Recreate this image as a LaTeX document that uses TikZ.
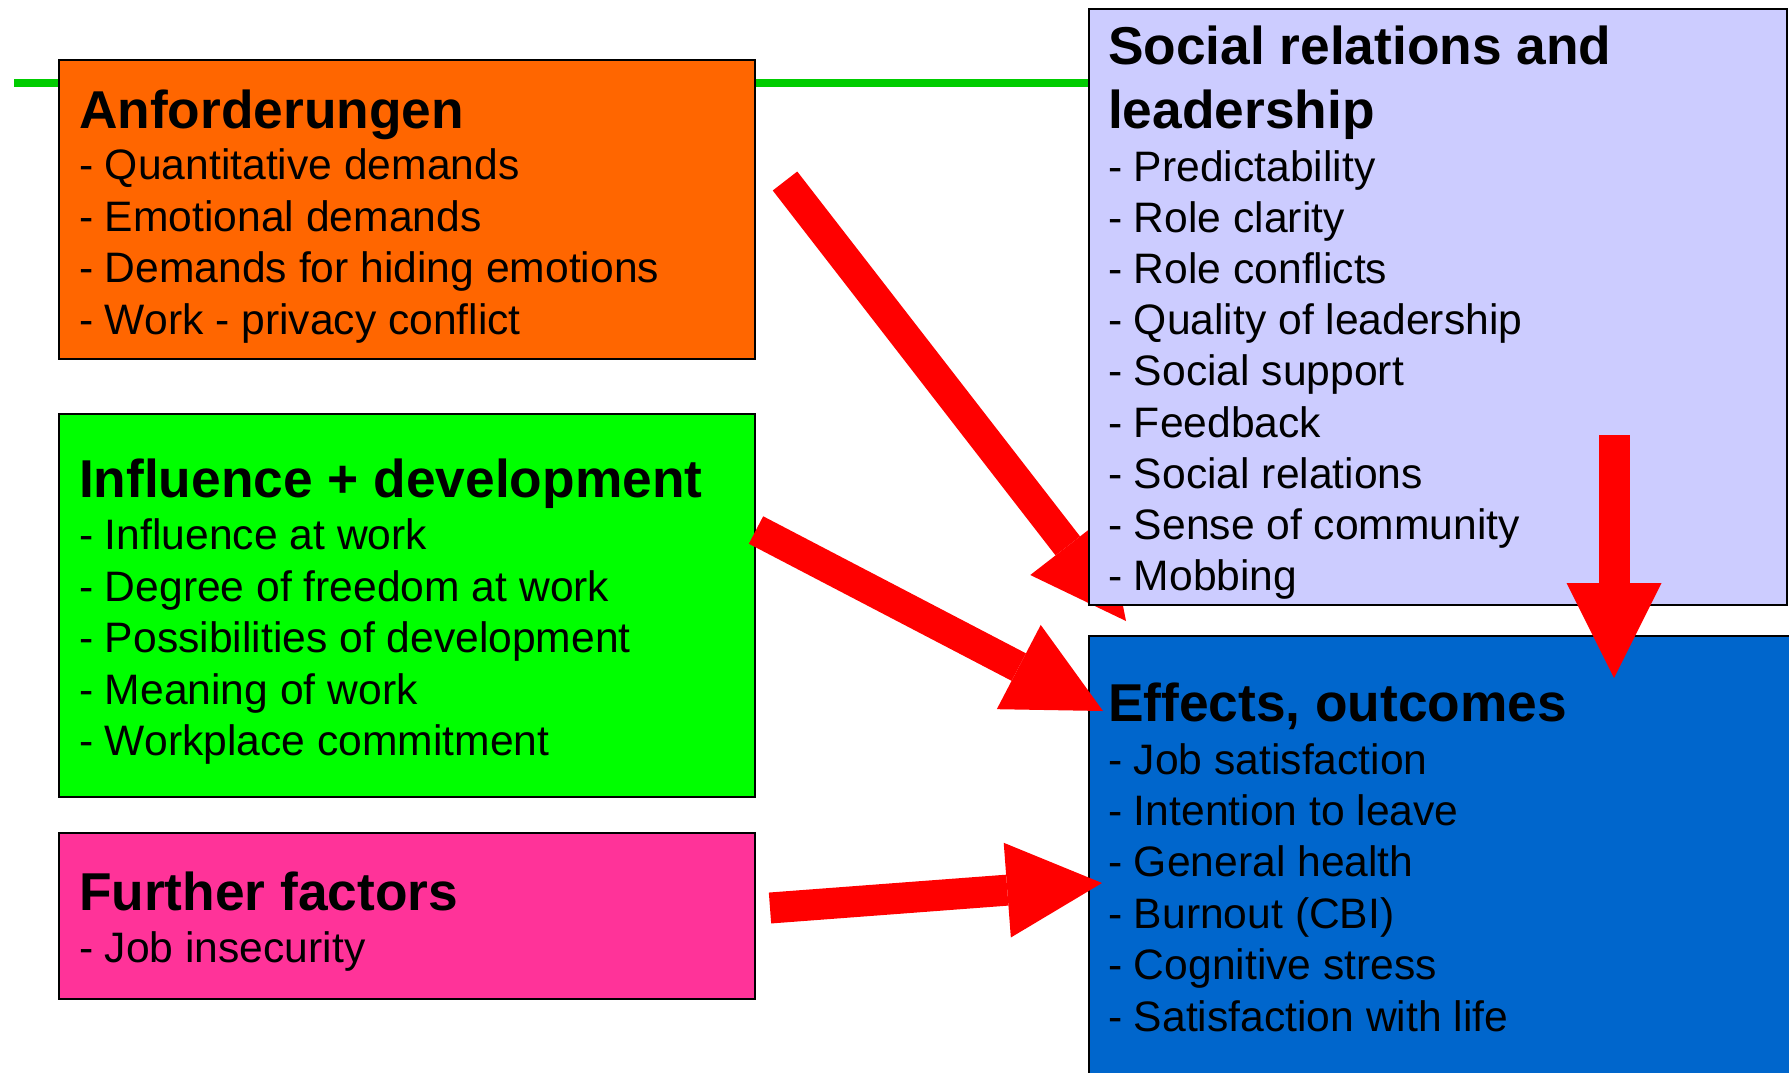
\documentclass[tikz,border=0pt]{standalone}
\usepackage{fontspec}
\setmainfont{Liberation Sans}
\usetikzlibrary{arrows.meta}
\definecolor{orangeC}{RGB}{255,102,0}
\definecolor{greenC}{RGB}{0,255,0}
\definecolor{pinkC}{RGB}{255,51,153}
\definecolor{lavC}{RGB}{204,204,255}
\definecolor{blueC}{RGB}{0,102,204}
\definecolor{lineC}{RGB}{0,204,0}
\definecolor{arrowC}{RGB}{255,0,0}
\newcommand{\ttl}[1]{\hbox{\fontsize{53.3}{64}\selectfont\bfseries #1}}
\newcommand{\itm}[1]{\hbox{\fontsize{42.6}{51}\selectfont - #1}}
\begin{document}
\begin{tikzpicture}[x=1pt,y=-1pt,
  box/.style={draw=black, line width=2pt, rectangle, anchor=north west, inner sep=0pt, outer sep=0pt},
  txt/.style={anchor=base west, inner sep=0pt, outer sep=0pt, text=black},
  bigarrow/.style={draw=arrowC, line width=31pt, -{Triangle[length=95pt,width=95pt,line width=0pt]}}]
\clip (0,0) rectangle (1789,1072);
\fill[white] (0,0) rectangle (1789,1072);
% green line
\coordinate (gl1) at (14,83);
\coordinate (gl2) at (1089,83);
\draw[lineC, line width=8pt] (gl1) -- (gl2);
% arrow behind the lavender box
\coordinate (a1s) at (785,181);
\coordinate (a1e) at (1126,621);
\draw[bigarrow] (a1s) -- (a1e);
% boxes
\node[box, fill=orangeC, minimum width=696pt, minimum height=299pt] (anf) at (59,60) {};
\node[box, fill=greenC, minimum width=696pt, minimum height=383pt] (inf) at (59,414) {};
\node[box, fill=pinkC, minimum width=696pt, minimum height=166pt] (fur) at (59,833) {};
\node[box, fill=lavC, minimum width=698pt, minimum height=596pt] (soc) at (1089,9) {};
\node[box, fill=blueC, minimum width=720pt, minimum height=460pt] (eff) at (1089,636) {};
% texts
\node[txt] (anfT) at (79,128) {\vtop{\lineskiplimit=-1000pt\lineskip=0pt
  \ttl{Anforderungen}\baselineskip=51.5pt
  \itm{Quantitative demands}\baselineskip=51.5pt
  \itm{Emotional demands}
  \itm{Demands for hiding emotions}
  \itm{Work - privacy conflict}}};
\node[txt] (infT) at (79,497) {\vtop{\lineskiplimit=-1000pt\lineskip=0pt
  \ttl{Influence + development}\baselineskip=52.5pt
  \itm{Influence at work}\baselineskip=51.5pt
  \itm{Degree of freedom at work}
  \itm{Possibilities of development}
  \itm{Meaning of work}
  \itm{Workplace commitment}}};
\node[txt] (furT) at (79,910) {\vtop{\lineskiplimit=-1000pt\lineskip=0pt
  \ttl{Further factors}\baselineskip=52pt
  \itm{Job insecurity}}};
\node[txt] (socT) at (1108,64) {\vtop{\lineskiplimit=-1000pt\lineskip=0pt
  \ttl{Social relations and}\baselineskip=64pt
  \ttl{leadership}\baselineskip=53pt
  \itm{Predictability}\baselineskip=51.2pt
  \itm{Role clarity}
  \itm{Role conflicts}
  \itm{Quality of leadership}
  \itm{Social support}
  \itm{Feedback}
  \itm{Social relations}
  \itm{Sense of community}
  \itm{Mobbing}}};
\node[txt] (effT) at (1108,721) {\vtop{\lineskiplimit=-1000pt\lineskip=0pt
  \ttl{Effects, outcomes}\baselineskip=53pt
  \itm{Job satisfaction}\baselineskip=51.4pt
  \itm{Intention to leave}
  \itm{General health}
  \itm{Burnout (CBI)}
  \itm{Cognitive stress}
  \itm{Satisfaction with life}}};
% arrows on top
\coordinate (a2s) at (756,530);
\coordinate (a2e) at (1103,711);
\coordinate (a3s) at (770,908);
\coordinate (a3e) at (1102,883);
\coordinate (a4s) at (1614,435);
\coordinate (a4e) at (1614,678);
\draw[bigarrow] (a2s) -- (a2e);
\draw[bigarrow] (a3s) -- (a3e);
\draw[bigarrow] (a4s) -- (a4e);
\end{tikzpicture}
\end{document}
